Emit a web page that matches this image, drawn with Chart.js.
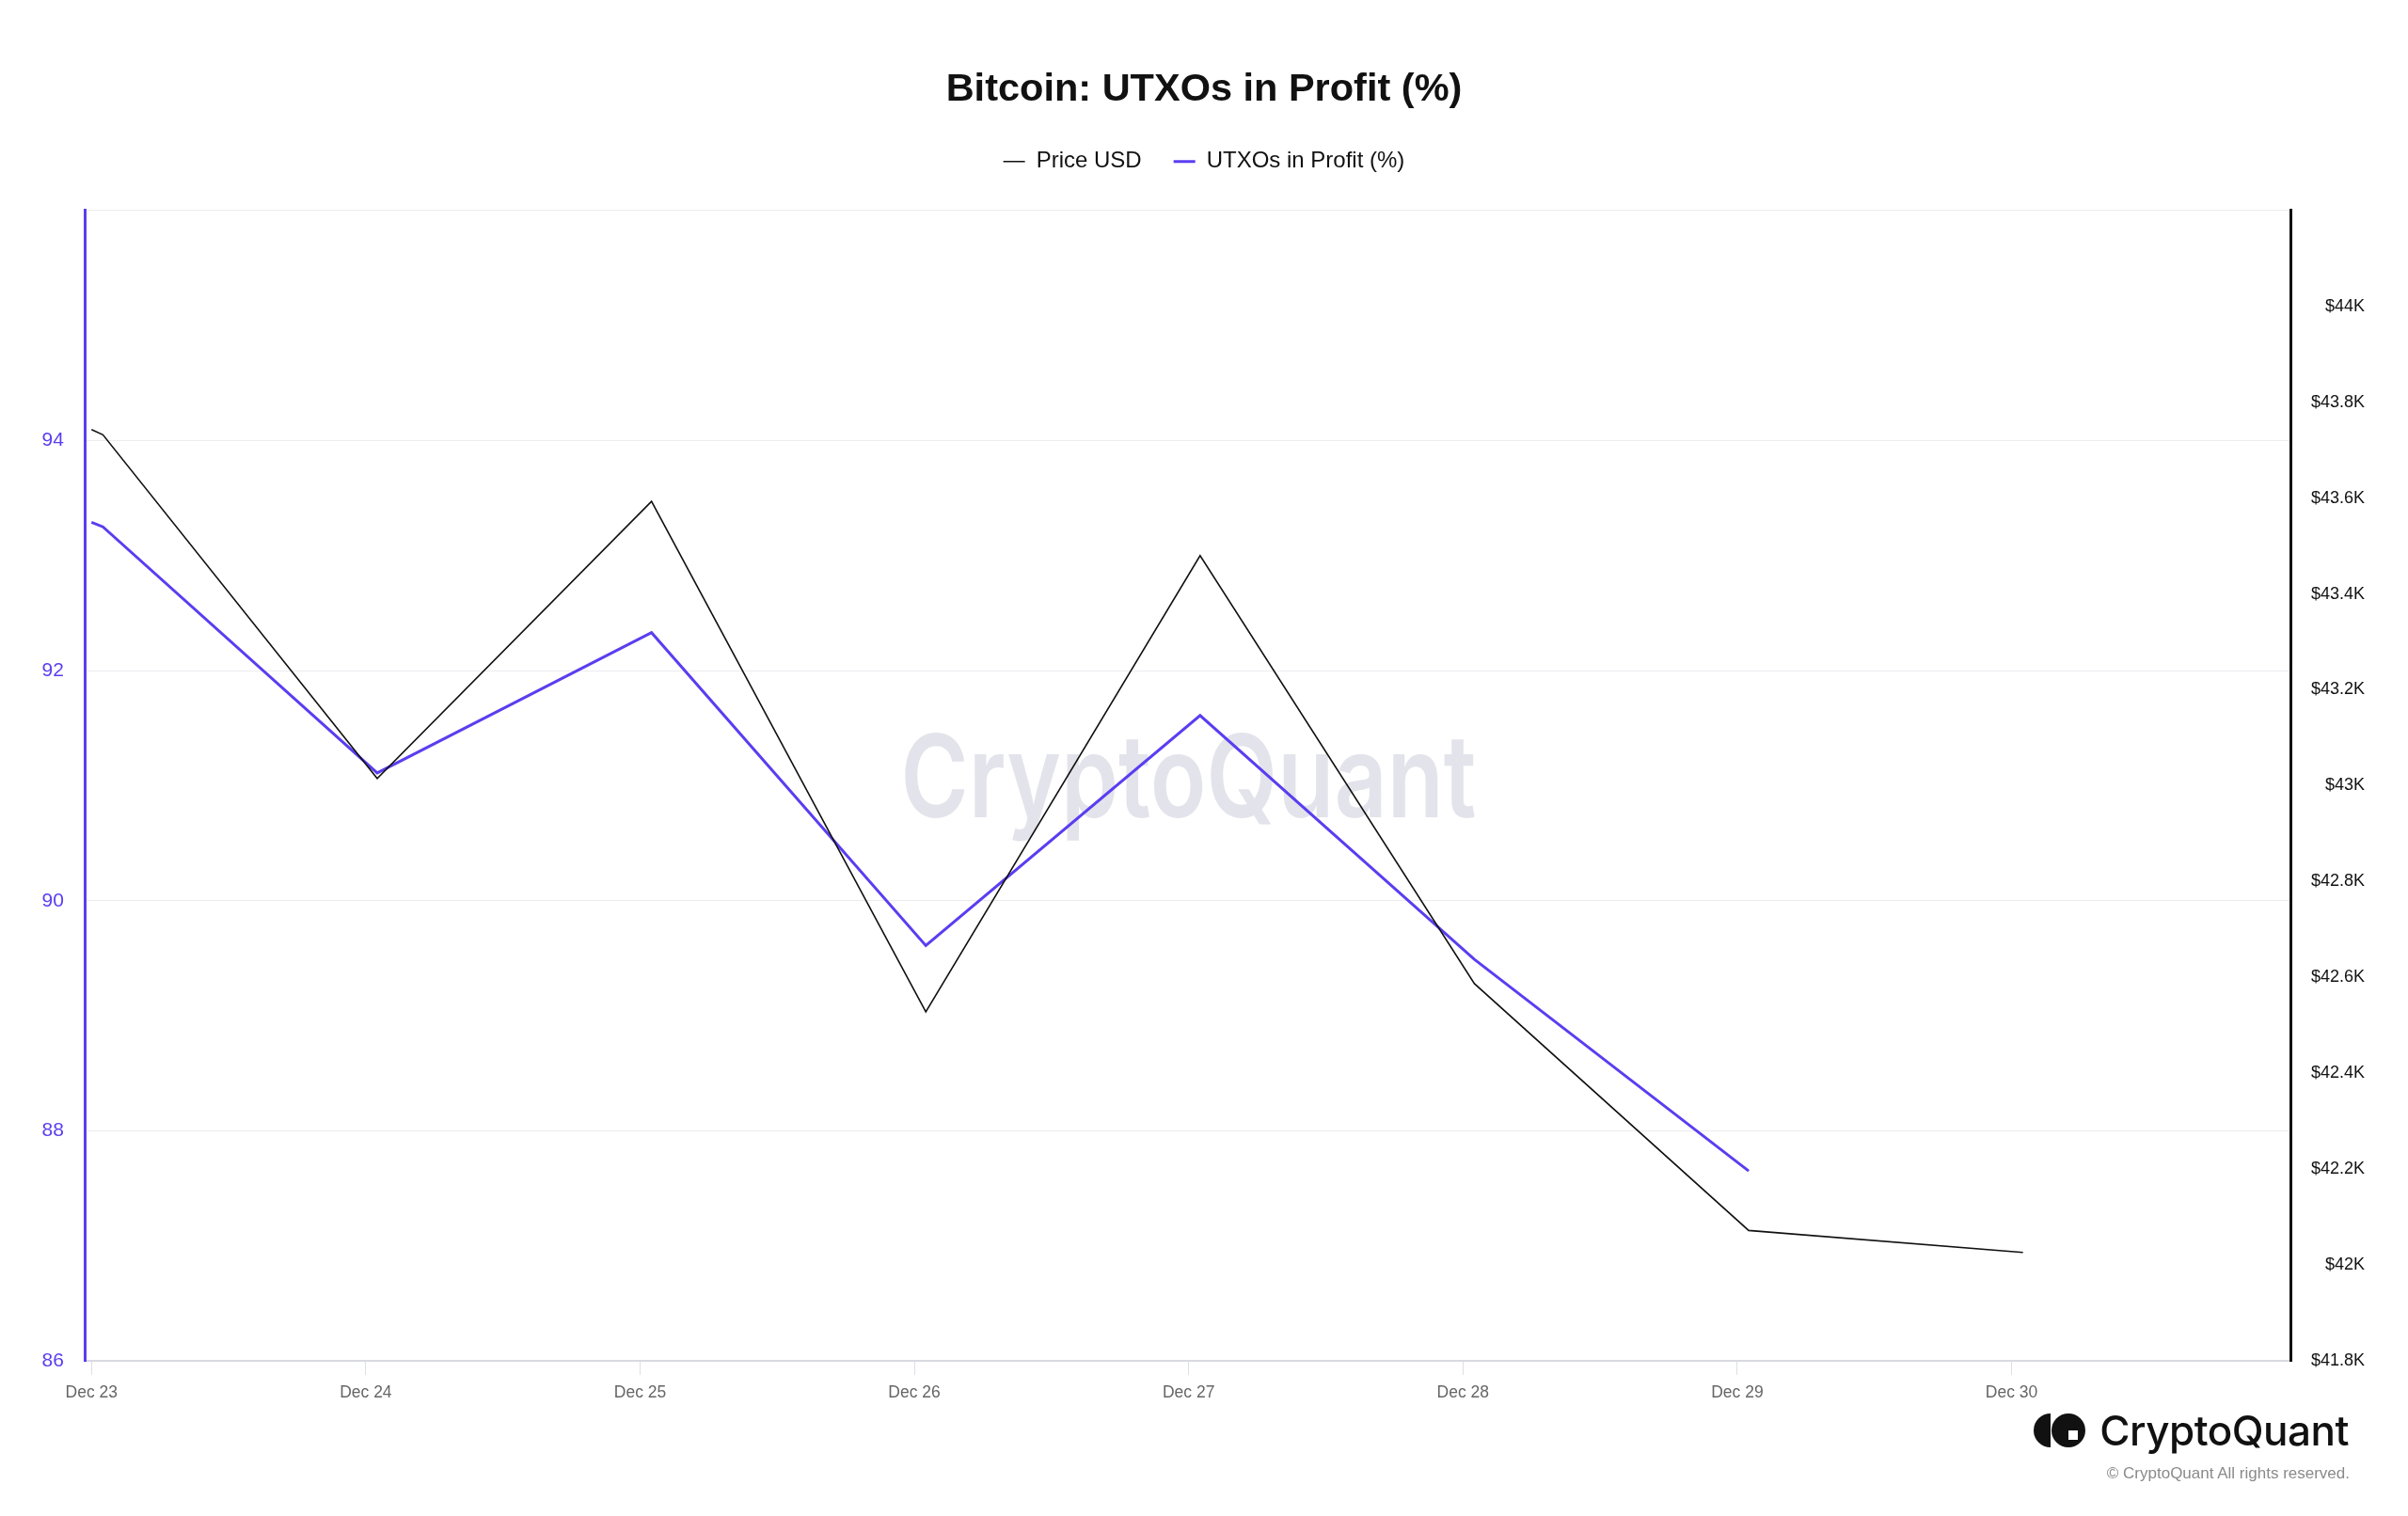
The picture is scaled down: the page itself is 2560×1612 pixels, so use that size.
<!DOCTYPE html>
<html>
<head>
<meta charset="utf-8">
<title>Bitcoin: UTXOs in Profit (%)</title>
<script src="https://cdn.jsdelivr.net/npm/chart.js@4.4.1/dist/chart.umd.min.js"></script>
<style>
  html, body { margin: 0; padding: 0; background: #fff; }
  #wrap { position: relative; width: 2560px; height: 1612px; }
  #brand { position: absolute; right: 63px; top: 1494px; display: flex; align-items: center; gap: 14px;
    font-family: Inter, "Liberation Sans", sans-serif; font-weight: 500; font-size: 44px; color: #111; letter-spacing: -0.5px; }
  #copy { position: absolute; right: 62px; top: 1557px; font-family: "Liberation Sans", Arial, sans-serif;
    font-size: 17px; color: #8a8a8a; }
</style>
</head>
<body>
<div id="wrap">
  <canvas id="chartContainer" width="2560" height="1612"></canvas>
  <div id="brand">
    <svg width="56" height="38" viewBox="0 0 56 38">
      <path d="M18 1 A18 18 0 0 0 18 37 Z" fill="#111"/>
      <circle cx="37" cy="19" r="18" fill="#111"/>
      <rect x="37" y="19" width="10" height="10" fill="#fff"/>
    </svg>
    <span>CryptoQuant</span>
  </div>
  <div id="copy">© CryptoQuant All rights reserved.</div>
</div>
<script>
// days after Dec 23 00:00
const dayOffsets = [0, 0.0417, 1.0417, 2.0417, 3.0417, 4.0417, 5.0417, 6.0417, 7.0417];
const priceUsd = [43743, 43732, 43015, 43593, 42528, 43480, 42587, 42072, 42026];
const utxoProfit = [93.29, 93.25, 91.11, 92.33, 89.61, 91.61, 89.49, 87.65];
const dateLabels = ['Dec 23', 'Dec 24', 'Dec 25', 'Dec 26', 'Dec 27', 'Dec 28', 'Dec 29', 'Dec 30'];

const BLUE = '#5a3ef0';
const FONT = '"Liberation Sans", Arial, Helvetica, sans-serif';

const watermark = {
  id: 'watermark',
  beforeDatasetsDraw(chart) {
    const { ctx, chartArea } = chart;
    ctx.save();
    ctx.font = '600 122px Inter, sans-serif';
    ctx.fillStyle = 'rgba(200, 200, 215, 0.5)';
    ctx.textAlign = 'center';
    ctx.textBaseline = 'alphabetic';
    const w = ctx.measureText('CryptoQuant').width;
    ctx.translate((chartArea.left + chartArea.right) / 2, 869);
    ctx.scale(612 / w, 1);
    ctx.fillText('CryptoQuant', 0, 0);
    ctx.restore();
  }
};

// extra room under the legend
const legendGap = {
  id: 'legendGap',
  beforeInit(chart) {
    const fit = chart.legend.fit;
    chart.legend.fit = function () {
      fit.call(this);
      this.height += 30;
    };
  },
  // centre title + legend on the whole canvas, not between the axes
  afterLayout(chart) {
    [chart.titleBlock, chart.legend].forEach(box => {
      if (!box) return;
      box.left = 0;
      box.right = chart.width;
      box.width = chart.width;
    });
  }
};

const ctx = document.getElementById('chartContainer');

new Chart(ctx, {
  type: 'line',
  data: {
    datasets: [{
      label: 'Price USD',
      data: priceUsd.map((v, i) => ({ x: dayOffsets[i], y: v })),
      yAxisID: 'yPrice',
      borderColor: '#111',
      backgroundColor: '#111',
      borderWidth: 1.6,
      pointRadius: 0,
      tension: 0
    }, {
      label: 'UTXOs in Profit (%)',
      data: utxoProfit.map((v, i) => ({ x: dayOffsets[i], y: v })),
      yAxisID: 'yUtxo',
      borderColor: BLUE,
      backgroundColor: BLUE,
      borderWidth: 3,
      pointRadius: 0,
      tension: 0
    }]
  },
  options: {
    responsive: false,
    animation: false,
    layout: { padding: { left: 21.5, right: 46, top: 0, bottom: 111 } },
    plugins: {
      title: {
        display: true,
        text: 'Bitcoin: UTXOs in Profit (%)',
        color: '#111',
        font: { family: FONT, size: 41.5, weight: 'bold' },
        padding: { top: 71, bottom: 5 }
      },
      legend: {
        labels: {
          usePointStyle: true,
          pointStyle: 'line',
          pointStyleWidth: 23,
          color: '#111',
          padding: 34,
          font: { family: FONT, size: 24 }
        }
      },
      tooltip: { enabled: false }
    },
    scales: {
      x: {
        type: 'linear',
        min: -0.022,
        max: 8.02,
        afterBuildTicks: axis => { axis.ticks = dateLabels.map((_, i) => ({ value: i })); },
        ticks: {
          callback: v => dateLabels[v],
          color: '#666',
          padding: 9,
          maxRotation: 0,
          font: { family: FONT, size: 17.5 }
        },
        grid: { drawOnChartArea: false, drawTicks: true, tickLength: 15, color: '#dedee8' },
        border: { color: '#d9d9e4', width: 2 }
      },
      yUtxo: {
        position: 'left',
        min: 86,
        max: 96,
        ticks: {
          stepSize: 2,
          callback: v => (v === 96 ? '' : v),
          color: BLUE,
          padding: 23,
          font: { family: FONT, size: 21 }
        },
        grid: { color: '#ececf0', drawTicks: false },
        border: { color: BLUE, width: 3 }
      },
      yPrice: {
        position: 'right',
        min: 41800,
        max: 44200,
        ticks: {
          stepSize: 200,
          crossAlign: 'far',
          callback: v => (v === 44200 ? '' : '$' + (v / 1000) + 'K'),
          color: '#111',
          padding: 10.5,
          font: { family: FONT, size: 18 }
        },
        grid: { drawOnChartArea: false, drawTicks: false },
        border: { color: '#111', width: 3 }
      }
    }
  },
  plugins: [watermark, legendGap]
});
</script>
</body>
</html>
